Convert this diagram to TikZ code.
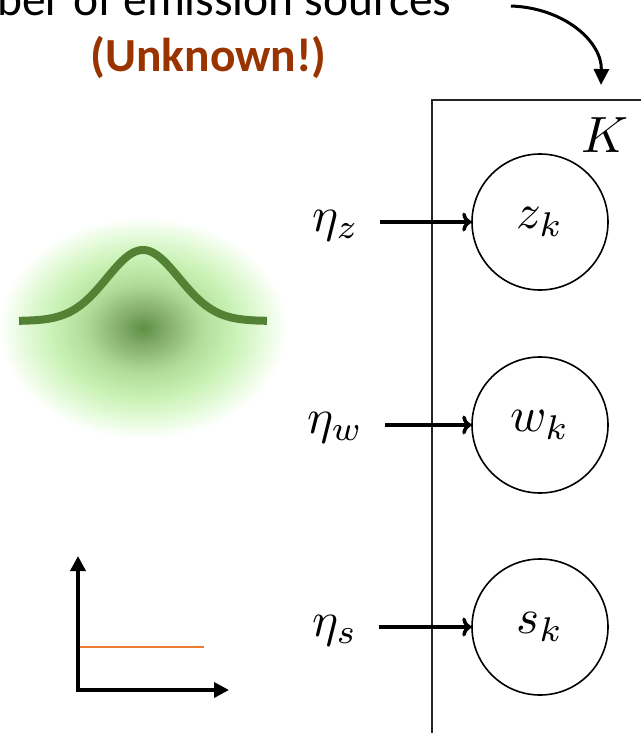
\documentclass[tikz,border=0pt]{standalone}
\usepackage{graphicx}
\usepackage{fontspec}
\newfontfamily\calibri{Carlito}
\usetikzlibrary{arrows.meta}
\newcommand\mbig[1]{\scalebox{4.9}{$#1$}}
\definecolor{unk}{RGB}{153,51,0}
\definecolor{gline}{RGB}{84,130,53}
\definecolor{orng}{RGB}{237,125,49}
\definecolor{g0}{RGB}{92,145,66}
\definecolor{g1}{RGB}{132,172,108}
\definecolor{g2}{RGB}{176,220,152}
\definecolor{g3}{RGB}{202,242,182}
\definecolor{g4}{RGB}{230,251,220}
\pgfdeclareradialshading{blob}{\pgfpoint{0bp}{0bp}}{color(0bp)=(g0); color(4bp)=(g1); color(10bp)=(g2); color(16bp)=(g3); color(21bp)=(g4); color(25bp)=(white); color(50bp)=(white)}
\tikzset{
  mathtxt/.style={inner sep=0pt},
  latent/.style={circle, draw, line width=1.6pt, minimum size=136pt, inner sep=0pt},
  etaarrow/.style={line width=3.5pt, -{Computer Modern Rightarrow[length=9pt,width=19pt]}},
  axisline/.style={line width=3.5pt, {Triangle[length=15pt,width=15pt]}-{Triangle[length=15pt,width=15pt]}},
  framelines/.style={line width=1.5pt, black!85},
  toptxt/.style={font=\calibri\fontsize{47.5}{52}\selectfont, inner sep=0pt},
}
\begin{document}
\begin{tikzpicture}[x=1pt, y=-1pt]
\useasboundingbox (0,0) rectangle (641,733);
\clip (0,0) rectangle (641,733);
% blob
\shade[shading=blob] (143,328) ellipse [x radius=144, y radius=111];
\draw[gline, line width=8pt] plot[domain=19:267, samples=120] (\x, {321-71*exp(-((\x-143)^2)/2592)});
% texts top
\node[toptxt, anchor=base west] (t1) at (-3,16) {ber of emission sources};
\node[toptxt, anchor=base, text=unk] (t2) at (208.5,72) {\bfseries (Unknown!)};
% top arrow
\coordinate (cs) at (511,6);
\coordinate (ce) at (601,85);
\draw[line width=3pt, -{Triangle[length=16pt,width=15pt]}] (cs) .. controls (565,8) and (602,42) .. (ce);
% frame
\coordinate (f1) at (641,100);
\coordinate (f2) at (432,100);
\coordinate (f3) at (432,733);
\draw[framelines] (f1) -- (f2) -- (f3);
\node[mathtxt, anchor=base] (K) at (605,153) {\scalebox{5.1}{$K$}};
% latent nodes
\node[latent] (z) at (540,222) {\mbig{z_k}};
\node[latent] (w) at (540,425) {\mbig{w_k}};
\node[latent] (s) at (540,627) {\mbig{s_k}};
% eta labels
\node[mathtxt, anchor=base west] (ez) at (312,231) {\mbig{\eta_z}};
\node[mathtxt, anchor=base west] (ew) at (307,433) {\mbig{\eta_w}};
\node[mathtxt, anchor=base west] (es) at (312,636) {\mbig{\eta_s}};
\coordinate (az) at (380,222);
\coordinate (aw) at (385,425);
\coordinate (as) at (379,627);
\draw[etaarrow] (az) -- (z);
\draw[etaarrow] (aw) -- (w);
\draw[etaarrow] (as) -- (s);
% small axes
\coordinate (yt) at (78,556);
\coordinate (o) at (78,690);
\coordinate (xe) at (229,690);
\draw[axisline] (yt) -- (o) -- (xe);
\coordinate (l1) at (80,647);
\coordinate (l2) at (204,647);
\draw[orng, line width=2.5pt] (l1) -- (l2);
\end{tikzpicture}
\end{document}
